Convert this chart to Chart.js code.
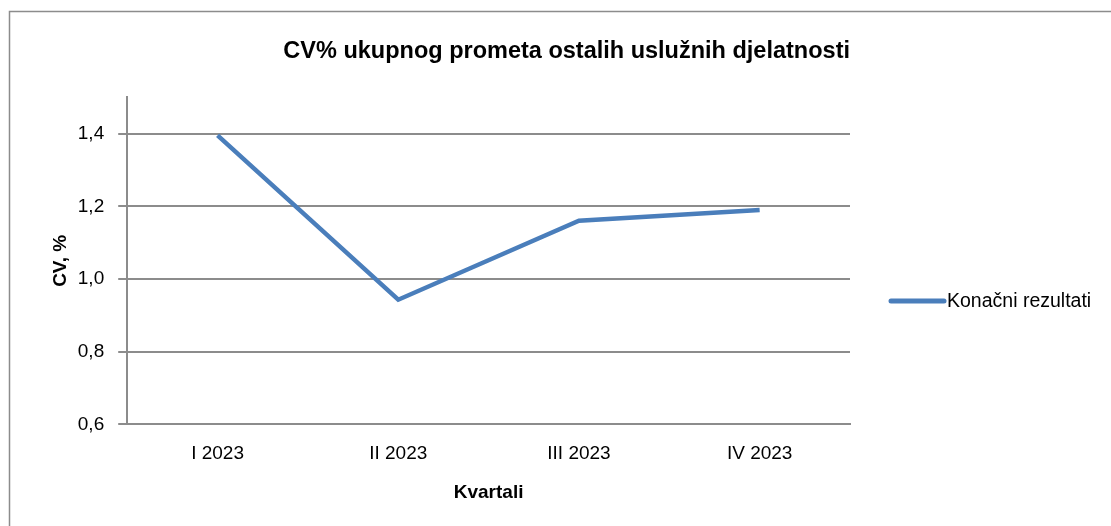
<!DOCTYPE html>
<html>
<head>
<meta charset="utf-8">
<script src="https://cdn.jsdelivr.net/npm/chart.js@4/dist/chart.umd.min.js"></script>
<style>
html,body{margin:0;padding:0;background:#fff;}
canvas{display:block;}
</style>
</head>
<body>
<canvas id="c" width="1111" height="526"></canvas>
<script>
const categories = ['I 2023', 'II 2023', 'III 2023', 'IV 2023'];
const seriesLabel = 'Konačni rezultati';
const seriesValues = [1.395, 0.943, 1.16, 1.19];
const yTickValues = [0.6, 0.8, 1.0, 1.2, 1.4];
const chartTitle = 'CV% ukupnog prometa ostalih uslužnih djelatnosti';
const xTitle = 'Kvartali';
const yTitle = 'CV, %';

const FONT = "'Liberation Sans', Arial, sans-serif";
const GRID = '#8c8c8c';
const LINE = '#4a7ebb';

const borderPlugin = {
  id: 'outerBorder',
  beforeDraw(chart) {
    const ctx = chart.ctx;
    ctx.save();
    ctx.fillStyle = '#fff';
    ctx.fillRect(0, 0, chart.width, chart.height);
    ctx.strokeStyle = '#8c8c8c';
    ctx.lineWidth = 1.5;
    ctx.strokeRect(9.5, 11.5, chart.width + 50, chart.height + 50);
    ctx.restore();
  }
};

const legendPlugin = {
  id: 'sideLegend',
  afterDraw(chart) {
    const ctx = chart.ctx;
    const ds = chart.data.datasets[0];
    const y = 301;
    ctx.save();
    ctx.strokeStyle = ds.borderColor;
    ctx.lineWidth = 5;
    ctx.lineCap = 'round';
    ctx.beginPath();
    ctx.moveTo(891, y);
    ctx.lineTo(944, y);
    ctx.stroke();
    ctx.fillStyle = '#000';
    ctx.font = "19.5px " + FONT;
    ctx.textBaseline = 'middle';
    ctx.textAlign = 'left';
    ctx.fillText(ds.label, 947, y + 1);
    ctx.restore();
  }
};

new Chart(document.getElementById('c'), {
  type: 'line',
  data: {
    labels: categories,
    datasets: [{
      label: seriesLabel,
      data: seriesValues,
      borderColor: LINE,
      backgroundColor: LINE,
      borderWidth: 4.5,
      pointRadius: 0,
      pointHoverRadius: 0,
      tension: 0,
      fill: false
    }]
  },
  options: {
    responsive: false,
    animation: false,
    events: [],
    layout: { padding: { left: 9, right: 261, top: 0, bottom: 4 } },
    plugins: {
      legend: { display: false },
      tooltip: { enabled: false },
      title: {
        display: true,
        text: chartTitle,
        align: 'end',
        color: '#000',
        font: { family: FONT, size: 23.5, weight: 'bold' },
        padding: { top: 37, bottom: 32 }
      }
    },
    scales: {
      x: {
        offset: true,
        grid: { display: false, drawTicks: false },
        border: { display: true, color: GRID, width: 2 },
        ticks: { color: '#000', font: { family: FONT, size: 19 }, padding: 18, maxRotation: 0 },
        title: {
          display: true, text: xTitle, color: '#000',
          font: { family: FONT, size: 19, weight: 'bold' },
          padding: { top: -2, bottom: 18 }
        }
      },
      y: {
        min: 0.6,
        max: 1.5,
        afterBuildTicks(scale) {
          scale.ticks = yTickValues.map(v => ({ value: v }));
        },
        grid: { color: GRID, lineWidth: 2, drawTicks: true, tickLength: 9 },
        border: { display: true, color: GRID, width: 2 },
        ticks: {
          color: '#000',
          font: { family: FONT, size: 19 },
          padding: 14,
          callback: v => Number(v).toFixed(1).replace('.', ',')
        },
        title: {
          display: true, text: yTitle, color: '#000',
          font: { family: FONT, size: 19, weight: 'bold' },
          padding: { top: 40, bottom: -8 }
        }
      }
    }
  },
  plugins: [borderPlugin, legendPlugin]
});
</script>
</body>
</html>
